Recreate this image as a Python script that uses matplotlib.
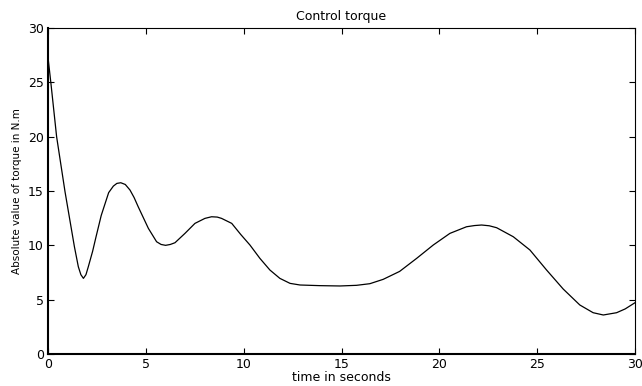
import matplotlib
matplotlib.use("Agg")
import matplotlib.pyplot as plt

# Readings from the reference picture
time_s = [0.0, 0.15, 0.44, 0.87, 1.35, 1.55, 1.68, 1.81, 1.94, 2.06, 2.28, 2.45,
          2.72, 3.1, 3.34, 3.52, 3.72, 3.95, 4.19, 4.4, 4.61, 5.13, 5.55, 5.78,
          6.01, 6.25, 6.49, 7.0, 7.51, 8.02, 8.36, 8.65, 8.87, 9.39, 9.85,
          10.32, 10.83, 11.34, 11.85, 12.37, 12.88, 13.9, 14.92, 15.77, 16.45,
          17.13, 17.97, 18.84, 19.69, 20.54, 21.39, 21.8, 22.16, 22.55, 22.93,
          23.78, 24.63, 25.48, 26.33, 27.18, 27.86, 28.38, 29.06, 29.5, 30.0]
torque = [27.3, 24.9, 20.0, 14.93, 9.87, 8.03, 7.3, 6.96, 7.3, 8.03, 9.45, 10.75,
          12.75, 14.85, 15.45, 15.7, 15.76, 15.6, 15.09, 14.4, 13.55, 11.56, 10.33, 10.08,
          10.0, 10.08, 10.24, 11.1, 12.02, 12.48, 12.63, 12.6, 12.48, 12.02, 11.0,
          10.03, 8.8, 7.73, 6.96, 6.5, 6.35, 6.29, 6.26, 6.32, 6.47,
          6.87, 7.6, 8.8, 10.03, 11.1, 11.71, 11.82, 11.87, 11.8, 11.62,
          10.79, 9.57, 7.73, 5.98, 4.51, 3.8, 3.59, 3.8, 4.15, 4.72]

x_ticks = [0, 5, 10, 15, 20, 25, 30]
y_ticks = [0, 5, 10, 15, 20, 25, 30]

fig = plt.figure(figsize=(6.42, 3.86), dpi=100)
ax = fig.add_axes([48 / 642, 1 - 354 / 386, (635 - 48) / 642, (354 - 28) / 386])
ax.plot(time_s, torque, color="black", linewidth=0.9, solid_joinstyle="round")
ax.set_xlim(0, 30)
ax.set_ylim(0, 30)
ax.set_xticks(x_ticks)
ax.set_yticks(y_ticks)
ax.tick_params(direction="in", top=True, right=True, length=4, width=0.8,
               labelsize=9, pad=3)
for lab in ax.get_xticklabels() + ax.get_yticklabels():
    lab.set_family("DejaVu Sans")
for side in ["left", "bottom"]:
    ax.spines[side].set_linewidth(1.5)
for side in ["top", "right"]:
    ax.spines[side].set_linewidth(0.8)
ax.set_title("Control torque", fontsize=9, family="DejaVu Sans", pad=6)
ax.set_xlabel("time in seconds", fontsize=9, family="DejaVu Sans", labelpad=0)
ax.set_ylabel("Absolute value of torque in N.m", fontsize=7.5, family="DejaVu Sans", labelpad=4)
fig.savefig("out.png", dpi=100)
